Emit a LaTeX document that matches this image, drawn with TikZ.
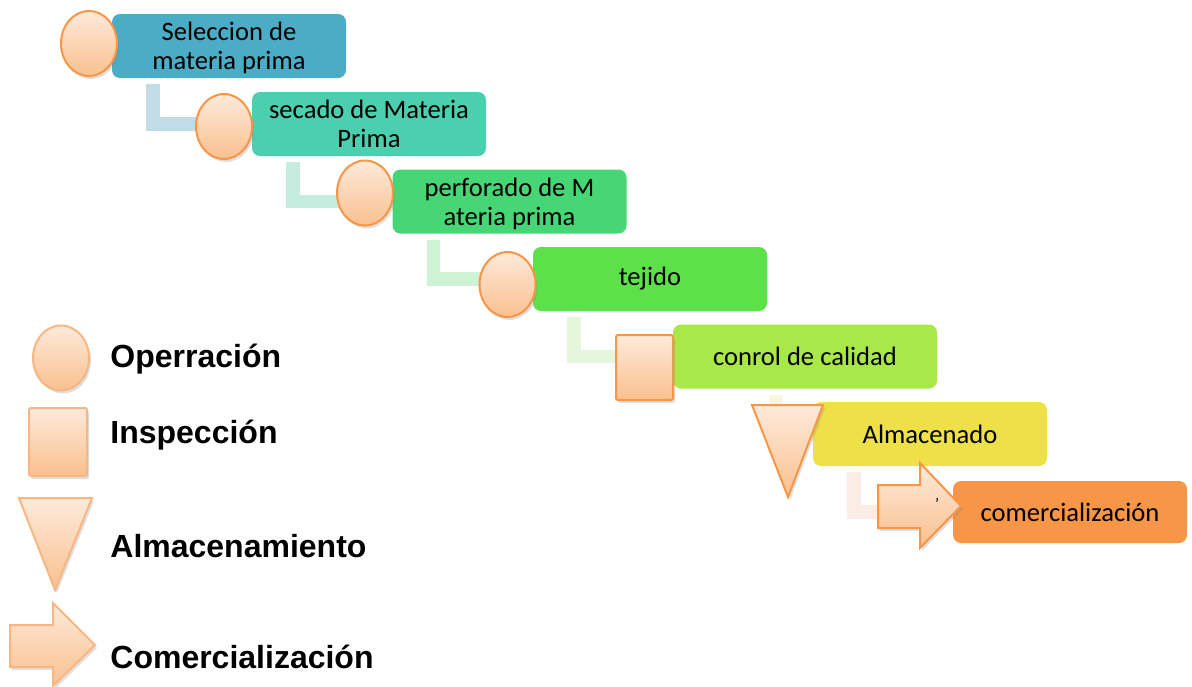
\documentclass[tikz,border=0pt]{standalone}
\usepackage{fontspec}
\setmainfont{Carlito}
\newfontfamily\lgfont{Liberation Sans}
\usepackage{tikz}
\usetikzlibrary{positioning,shapes.geometric,shadows,backgrounds}

\definecolor{boxA}{RGB}{75,172,198}
\definecolor{boxB}{RGB}{75,207,175}
\definecolor{boxC}{RGB}{71,214,118}
\definecolor{boxD}{RGB}{94,224,74}
\definecolor{boxE}{RGB}{168,232,72}
\definecolor{boxF}{RGB}{238,224,72}
\definecolor{boxG}{RGB}{247,150,70}
\definecolor{linkA}{RGB}{193,220,228}
\definecolor{linkB}{RGB}{197,236,222}
\definecolor{linkC}{RGB}{205,242,212}
\definecolor{linkD}{RGB}{230,246,220}
\definecolor{linkE}{RGB}{250,246,222}
\definecolor{linkF}{RGB}{252,236,230}
\definecolor{symtop}{RGB}{253,234,218}
\definecolor{symbot}{RGB}{250,192,143}
\definecolor{symedge}{RGB}{247,150,70}
\definecolor{legedge}{RGB}{248,182,130}

\begin{document}
\begin{tikzpicture}[x=0.5pt,y=-0.5pt,
  stage/.style={rectangle,rounded corners=4pt,inner sep=0pt,minimum width=117pt,
    minimum height=32pt,align=center,font=\fontsize{13.3}{14.5}\selectfont},
  twoline/.style={stage,text depth=0pt},
  sym/.style={draw=symedge,line width=1pt,top color=symtop,bottom color=symbot,
    drop shadow={opacity=0.25,shadow xshift=1pt,shadow yshift=-1.5pt}},
  legsym/.style={draw=legedge},
  opcircle/.style={sym,ellipse,minimum width=28pt,minimum height=32.5pt,inner sep=0pt},
  inspsq/.style={sym,rectangle,rounded corners=1pt,minimum width=28.5pt,minimum height=32.5pt,inner sep=0pt},
  link/.style={line width=6.75pt,line join=miter},
  legtext/.style={anchor=base west,inner xsep=0pt,font=\lgfont\bfseries\fontsize{16}{18}\selectfont}]
  \useasboundingbox (0,0) rectangle (1192,686);

  % process steps
  \node[twoline,fill=boxA] (b1) at (229,46) {Seleccion de\\materia prima};
  \node[twoline,fill=boxB] (b2) at (369,124) {secado de Materia\\Prima};
  \node[twoline,fill=boxC] (b3) at (509.5,201.5) {perforado de M\\ateria prima};
  \node[stage,fill=boxD] (b4) at (650,279) {tejido};
  \node[stage,fill=boxE,minimum width=132pt] (b5) at (805,356.5) {conrol de calidad};
  \node[stage,fill=boxF] (b6) at (930,434) {Almacenado};
  \node[stage,fill=boxG,minimum height=31pt] (b7) at (1070,512) {comercialización};

  % links between steps
  \begin{scope}[on background layer]
    \draw[link,draw=linkA] ([xshift=20.75pt,yshift=-3pt]b1.south west) |- (b2.west);
    \draw[link,draw=linkB] ([xshift=20.75pt,yshift=-3pt]b2.south west) |- (b3.west);
    \draw[link,draw=linkC] ([xshift=20.75pt,yshift=-3pt]b3.south west) |- (b4.west);
    \draw[link,draw=linkD] ([xshift=20.75pt,yshift=-3pt]b4.south west) |- (b5.west);
    \draw[link,draw=linkE] ([xshift=51.75pt,yshift=-3pt]b5.south west) |- (b6.west);
    \draw[link,draw=linkF] ([xshift=20.75pt,yshift=-3pt]b6.south west) |- (b7.west);
  \end{scope}

  % symbols
  \node[opcircle] (c1) at (89,43.5) {};
  \node[opcircle] (c2) at (224,126.5) {};
  \node[opcircle] (c3) at (365,193) {};
  \node[opcircle] (c4) at (507.5,284.5) {};
  \node[inspsq] (s5) at (644.5,367.5) {};
  \path[sym] (752,405) -- (823,405) -- (788,497) -- cycle;
  \path[sym] (878,485) -- (920,485) -- (920,463) -- (961,506) -- (920,548)
    -- (920,528) -- (878,528) -- cycle;
  \node[font=\fontsize{8}{8}\selectfont] (tick) at (937,504) {’};

  % legend
  \node[opcircle,legsym] (lop) at (61,358) {};
  \node[legtext] (top) at (110,367) {Operración};
  \node[inspsq,legsym,minimum width=29pt,minimum height=34pt] (lin) at (58,442) {};
  \node[legtext] (tin) at (110,443) {Inspección};
  \path[sym,legsym] (19,498) -- (92,498) -- (55,590) -- cycle;
  \node[legtext] (tal) at (110,557) {Almacenamiento};
  \path[sym,legsym] (10,625) -- (53,625) -- (53,603) -- (95,645) -- (53,686)
    -- (53,667) -- (10,667) -- cycle;
  \node[legtext] (tco) at (110,668) {Comercialización};
\end{tikzpicture}
\end{document}
